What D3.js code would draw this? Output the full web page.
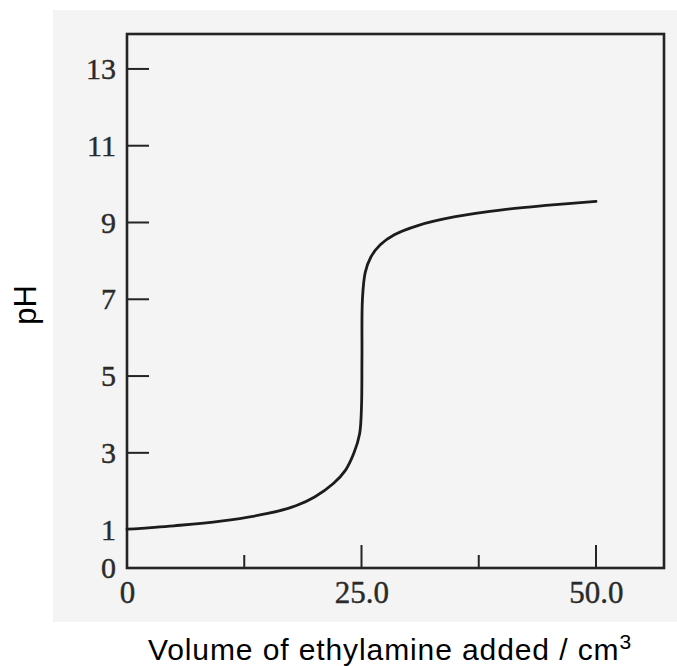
<!DOCTYPE html>
<html>
<head>
<meta charset="utf-8">
<script src="https://cdn.jsdelivr.net/npm/d3@7"></script>
<style>
  html, body { margin: 0; padding: 0; background: #ffffff; }
  svg { display: block; }
</style>
</head>
<body>
<svg id="chart" width="677" height="666"></svg>
<script>
// Titration curve: pH against volume of ethylamine added
const volume = [0, 5, 10, 15, 18, 20, 22, 23.3, 24.2, 24.8, 25.0, 25.05, 25.1, 25.4, 26, 27, 28.5, 31, 35, 40, 45, 50];
const pH     = [1.01, 1.10, 1.22, 1.42, 1.62, 1.85, 2.2, 2.55, 3.0, 3.5, 4.2, 5.5, 7.0, 7.7, 8.1, 8.42, 8.68, 8.92, 9.15, 9.33, 9.45, 9.55];

const yTicks = [0, 1, 3, 5, 7, 9, 11, 13];
const yTickMarks = [3, 5, 7, 9, 11, 13];
const xTickLabels = [0, 25, 50];
const xMajorMarks = [25, 50];
const xMinorMarks = [12.5, 37.5];

const svg = d3.select("#chart");
const plotLeft = 127, plotRight = 664, plotTop = 34, plotBottom = 568;

const x = d3.scaleLinear().domain([0, 57.25]).range([plotLeft, plotRight]);
const y = d3.scaleLinear().domain([0, 13.91]).range([plotBottom, plotTop]);

const ink = "#242424";
const serif = "'Liberation Serif', 'Times New Roman', serif";
const sans = "'Liberation Sans', Arial, sans-serif";

// scanned page background
svg.append("rect")
  .attr("x", 53).attr("y", 10)
  .attr("width", 624).attr("height", 612)
  .attr("fill", "#f4f4f4");

// y axis labels
const yAxis = d3.axisLeft(y).tickValues(yTicks).tickSize(0).tickPadding(11)
  .tickFormat(d3.format("d"));
const gy = svg.append("g").attr("transform", `translate(${plotLeft},0)`).call(yAxis);
gy.select(".domain").remove();
gy.selectAll("text")
  .attr("font-family", serif)
  .attr("font-size", 30).attr("fill", "#2a2a2a")
  .attr("stroke", "#2a2a2a").attr("stroke-width", 0.4);

// y tick marks, pointing inward
svg.append("g").selectAll("line").data(yTickMarks).join("line")
  .attr("x1", plotLeft).attr("x2", plotLeft + 22)
  .attr("y1", d => y(d)).attr("y2", d => y(d))
  .attr("stroke", ink).attr("stroke-width", 2);

// x axis labels
const xAxis = d3.axisBottom(x).tickValues(xTickLabels).tickSize(0).tickPadding(13)
  .tickFormat(d => d === 0 ? "0" : d3.format(".1f")(d));
const gx = svg.append("g").attr("transform", `translate(0,${plotBottom})`).call(xAxis);
gx.select(".domain").remove();
gx.selectAll("text")
  .attr("font-family", serif)
  .attr("font-size", 31).attr("fill", "#2a2a2a")
  .attr("stroke", "#2a2a2a").attr("stroke-width", 0.4);

// x tick marks, pointing inward
svg.append("g").selectAll("line").data(xMajorMarks).join("line")
  .attr("x1", d => x(d)).attr("x2", d => x(d))
  .attr("y1", plotBottom).attr("y2", plotBottom - 23)
  .attr("stroke", ink).attr("stroke-width", 2);
svg.append("g").selectAll("line").data(xMinorMarks).join("line")
  .attr("x1", d => x(d)).attr("x2", d => x(d))
  .attr("y1", plotBottom).attr("y2", plotBottom - 13)
  .attr("stroke", ink).attr("stroke-width", 2);

// frame
svg.append("rect")
  .attr("x", plotLeft).attr("y", plotTop)
  .attr("width", plotRight - plotLeft).attr("height", plotBottom - plotTop)
  .attr("fill", "none").attr("stroke", ink).attr("stroke-width", 2.6);

// curve
const line = d3.line()
  .x((d, i) => x(volume[i]))
  .y(d => y(d))
  .curve(d3.curveCatmullRom.alpha(0.5));
svg.append("path")
  .datum(pH)
  .attr("d", line)
  .attr("fill", "none")
  .attr("stroke", "#1c1c1c")
  .attr("stroke-width", 2.8)
  .attr("stroke-linecap", "round");

// axis titles
svg.append("text")
  .attr("transform", "translate(36,305) rotate(-90)")
  .attr("text-anchor", "middle")
  .attr("font-family", sans)
  .attr("font-size", 31).attr("fill", "#000")
  .text("pH");

const xt = svg.append("text")
  .attr("x", 390).attr("y", 660)
  .attr("text-anchor", "middle")
  .attr("font-family", sans)
  .attr("font-size", 30).attr("letter-spacing", 0.9).attr("fill", "#000");
xt.append("tspan").text("Volume of ethylamine added / cm");
xt.append("tspan").attr("dy", -11).attr("font-size", 21).text("3");
</script>
</body>
</html>
